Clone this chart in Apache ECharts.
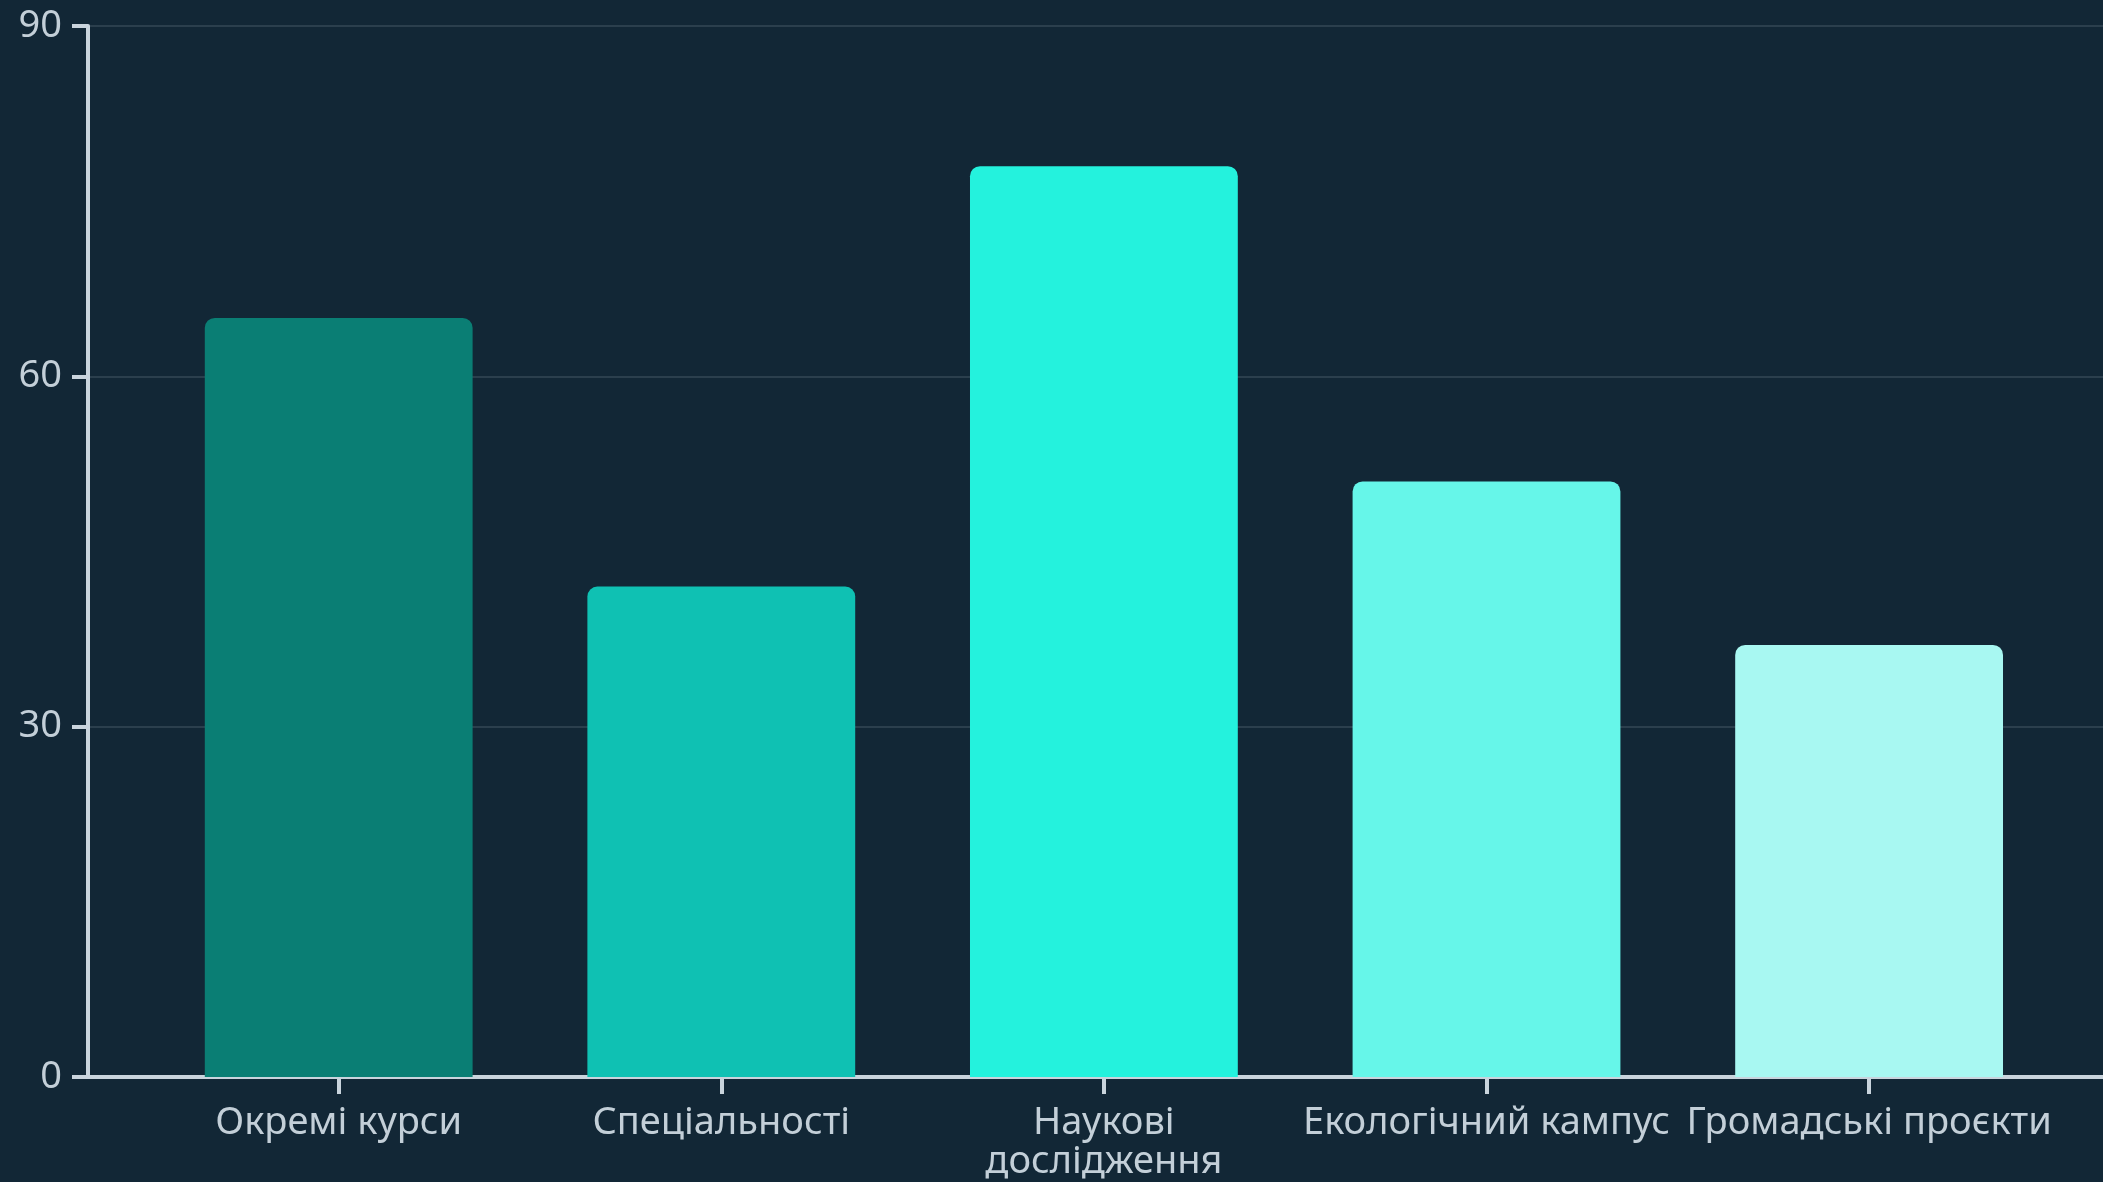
<!DOCTYPE html>
<html>
<head>
<meta charset="utf-8">
<script src="https://cdn.jsdelivr.net/npm/echarts@6/dist/echarts.min.js"></script>
<style>
html,body{margin:0;padding:0;background:#122736;}
#c{width:2103px;height:1182px;}
</style>
</head>
<body>
<div id="c"></div>
<script>
const categories = ['Окремі курси', 'Спеціальності', 'Наукові\nдослідження', 'Екологічний кампус', 'Громадські проєкти'];
const values = [65, 42, 78, 51, 37];
const barColors = ['#0a7e74', '#0fc1b3', '#24f2dd', '#66f6e9', '#a8f8f2'];
const yTicks = { min: 0, max: 90, interval: 30 };

const axisColor = '#c9d4dd';
const textColor = '#c3cfd8';
const font = 'Noto Sans';

const chart = echarts.init(document.getElementById('c'), null, { renderer: 'canvas' });
chart.setOption({
  backgroundColor: '#122736',
  animation: false,
  grid: [
    { left: 88, right: 0, top: 26, bottom: 105, containLabel: false },
    { left: 147.4, right: 42.6, top: 26, bottom: 105, containLabel: false }
  ],
  xAxis: [
    {
      gridIndex: 0, type: 'value', min: 0, max: 1,
      axisLine: { show: true, onZero: false, lineStyle: { color: axisColor, width: 4 } },
      axisTick: { show: false }, axisLabel: { show: false }, splitLine: { show: false }
    },
    {
      gridIndex: 1, type: 'category', data: categories,
      axisLine: { show: false },
      axisTick: { show: true, alignWithLabel: true, length: 17, lineStyle: { color: axisColor, width: 4 } },
      axisLabel: { color: textColor, fontFamily: font, fontSize: 38, lineHeight: 39, margin: 27, interval: 0 },
      splitLine: { show: false }
    }
  ],
  yAxis: [
    {
      gridIndex: 0, type: 'value', min: yTicks.min, max: yTicks.max, interval: yTicks.interval,
      axisLine: { show: true, lineStyle: { color: axisColor, width: 4 } },
      axisTick: { show: true, length: 16, lineStyle: { color: axisColor, width: 4 } },
      axisLabel: { color: textColor, fontFamily: font, fontSize: 38, margin: 26 },
      splitLine: { show: true, lineStyle: { color: '#2b3f4d', width: 2 } }
    },
    {
      gridIndex: 1, type: 'value', min: yTicks.min, max: yTicks.max, interval: yTicks.interval,
      show: false
    }
  ],
  series: [
    {
      type: 'bar', xAxisIndex: 1, yAxisIndex: 1,
      data: values.map((v, i) => ({ value: v, itemStyle: { color: barColors[i] } })),
      barWidth: '70%',
      itemStyle: { borderRadius: [10, 10, 0, 0] },
      z: 1
    }
  ]
});
</script>
</body>
</html>
